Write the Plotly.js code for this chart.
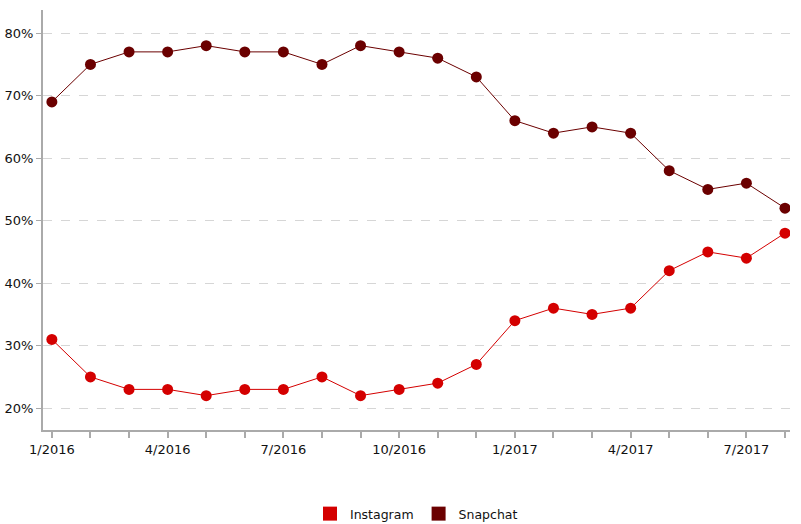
<!DOCTYPE html>
<html>
<head>
<meta charset="utf-8">
<script src="https://cdn.plot.ly/plotly-3.0.1.min.js"></script>
<style>html,body{margin:0;padding:0;background:#fff;}#chart{width:801px;height:524px;}</style>
</head>
<body>
<div id="chart"></div>
<script>
var months = ["1/2016","2/2016","3/2016","4/2016","5/2016","6/2016","7/2016","8/2016","9/2016","10/2016","11/2016","12/2016","1/2017","2/2017","3/2017","4/2017","5/2017","6/2017","7/2017","8/2017"];
var tickLabels = ["1/2016","","","4/2016","","","7/2016","","","10/2016","","","1/2017","","","4/2017","","","7/2017",""];
var yTickVals = [20,30,40,50,60,70,80];
var yTickLabels = ["20%","30%","40%","50%","60%","70%","80%"];
var instagram = [31,25,23,23,22,23,23,25,22,23,24,27,34,36,35,36,42,45,44,48];
var snapchat = [69,75,77,77,78,77,77,75,78,77,76,73,66,64,65,64,58,55,56,52];
var idx = months.map(function(_, i){ return i; });

var instaColor = "#d40000";
var snapColor = "#6b0000";

var traces = [
  {x: idx, y: instagram, mode: "lines+markers", name: "Instagram", showlegend: false,
   line: {color: instaColor, width: 1}, marker: {color: instaColor, size: 11}, text: months, hoverinfo: "text+y"},
  {x: idx, y: snapchat, mode: "lines+markers", name: "Snapchat", showlegend: false,
   line: {color: snapColor, width: 1}, marker: {color: snapColor, size: 11}, text: months, hoverinfo: "text+y"},
  {x: [null], y: [null], mode: "markers", name: "Instagram", marker: {color: instaColor, symbol: "square", size: 14}},
  {x: [null], y: [null], mode: "markers", name: "Snapchat", marker: {color: snapColor, symbol: "square", size: 14}}
];

var layout = {
  width: 801, height: 524,
  margin: {l: 43, r: 11, t: 10, b: 94, autoexpand: false},
  paper_bgcolor: "#fff", plot_bgcolor: "#fff",
  font: {family: "DejaVu Sans, sans-serif", size: 13, color: "#222"},
  xaxis: {
    range: [-0.23, 19.13], tickvals: idx, ticktext: tickLabels,
    showgrid: false, zeroline: false, showline: true, linecolor: "#aaa", linewidth: 2,
    ticks: "outside", ticklen: 6, tickcolor: "#aaa", tickwidth: 2,
    tickfont: {size: 13, color: "#111"}
  },
  yaxis: {
    range: [16.5, 83.7], tickvals: yTickVals, ticktext: yTickLabels,
    showgrid: true, gridcolor: "#d6d6d6", griddash: "dash", gridwidth: 1,
    zeroline: false, showline: true, linecolor: "#aaa", linewidth: 2,
    ticks: "outside", ticklen: 5, tickcolor: "#aaa", tickwidth: 1,
    tickfont: {size: 13, color: "#111"}
  },
  showlegend: true,
  legend: {orientation: "h", x: 0.5, xanchor: "center", y: -0.2, yanchor: "middle",
           font: {size: 12.5, color: "#111"}, itemwidth: 30}
};

Plotly.newPlot("chart", traces, layout, {displayModeBar: false});
</script>
</body>
</html>
